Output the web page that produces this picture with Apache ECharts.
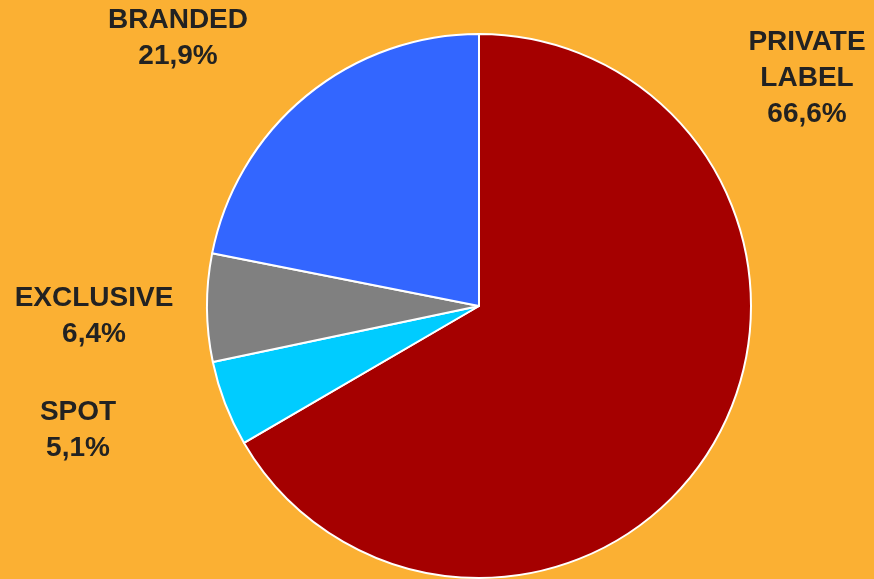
<!DOCTYPE html>
<html>
<head>
<meta charset="utf-8">
<script src="https://cdn.jsdelivr.net/npm/echarts@6/dist/echarts.min.js"></script>
<style>
  html, body { margin: 0; padding: 0; background: #fbb033; }
  #pieChart { width: 874px; height: 579px; }
</style>
</head>
<body>
<div id="pieChart"></div>
<script>
  // data, clockwise from 12 o'clock
  let names = ['PRIVATE\nLABEL', 'SPOT', 'EXCLUSIVE', 'BRANDED'];
  let values = [66.6, 5.1, 6.4, 21.9];
  let colorList = ['#a50000', '#00ccff', '#808080', '#3366ff'];

  // where each label block sits (centre of the text)
  let labelPos = [[807, 78], [78, 430], [94, 316], [178, 38]];

  let pieChart = echarts.init(document.getElementById('pieChart'));

  let seriesData = [];
  for (let i = 0; i < names.length; i++) {
    seriesData.push({
      name: names[i],
      value: values[i],
      itemStyle: { color: colorList[i] }
    });
  }

  let option = {
    backgroundColor: '#fbb033',
    animation: false,
    series: [{
      type: 'pie',
      center: [479, 306],
      radius: 272,
      startAngle: 90,
      clockwise: true,
      itemStyle: {
        borderColor: '#ffffff',
        borderWidth: 2
      },
      label: {
        show: true,
        position: 'outside',
        overflow: 'none',
        color: '#222222',
        fontFamily: 'Liberation Sans, Arial, sans-serif',
        fontWeight: 'bold',
        fontSize: 28,
        lineHeight: 36,
        align: 'center',
        formatter: function (p) {
          return p.name + '\n' + p.value.toFixed(1).replace('.', ',') + '%';
        }
      },
      labelLine: { show: false },
      labelLayout: function (params) {
        let pos = labelPos[params.dataIndex];
        return {
          x: pos[0],
          y: pos[1],
          align: 'center',
          verticalAlign: 'middle'
        };
      },
      data: seriesData
    }]
  };
  pieChart.setOption(option);
</script>
</body>
</html>
